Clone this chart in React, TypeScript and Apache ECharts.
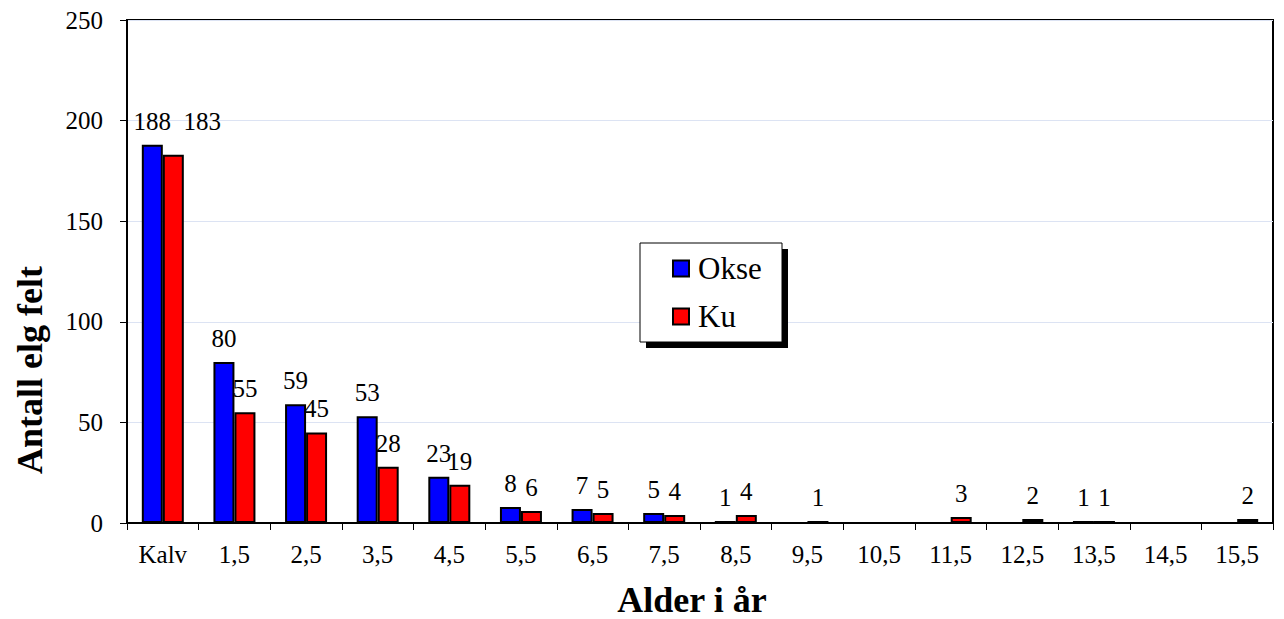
import React, { useEffect, useRef } from 'react'
import * as echarts from 'echarts'

const categories = ['Kalv', '1,5', '2,5', '3,5', '4,5', '5,5', '6,5', '7,5', '8,5', '9,5', '10,5', '11,5', '12,5', '13,5', '14,5', '15,5']
const okse = [188, 80, 59, 53, 23, 8, 7, 5, 1, 0, 0, 0, 0, 1, 0, 0]
const ku = [183, 55, 45, 28, 19, 6, 5, 4, 4, 1, 0, 3, 2, 1, 0, 2]
const yTicks = { min: 0, max: 250, interval: 50 }

const serif = 'Liberation Serif'

const App = () => {
    const chartRef = useRef<HTMLDivElement>(null)

    useEffect(() => {
        if (!chartRef.current) return
        const chart = echarts.init(chartRef.current, null, { renderer: 'svg' })

        const barLabel = {
            show: true,
            position: 'top',
            distance: 11,
            color: '#000',
            fontSize: 25,
            fontFamily: serif,
            formatter: (p: any) => (p.value === 0 ? '' : String(p.value)),
        }

        // first Ku label is nudged right/up in the original so it doesn't collide with 188
        const kuData = ku.map((v, i) => (i === 0 ? { value: v, label: { offset: [29, -10] } } : v))

        const option = {
            animation: false,
            backgroundColor: '#fff',
            textStyle: { fontFamily: serif },
            grid: {
                left: 127,
                right: 11,
                top: 20,
                bottom: 96,
                show: true,
                borderColor: '#000',
                borderWidth: 2,
                backgroundColor: 'transparent',
            },
            graphic: [
                // legend box with hard shadow
                { type: 'rect', shape: { x: 646, y: 249, width: 142, height: 99 }, style: { fill: '#000' }, z: 10 },
                { type: 'rect', shape: { x: 640, y: 243, width: 142, height: 99 }, style: { fill: '#fff', stroke: '#000', lineWidth: 1 }, z: 11 },
                {
                    type: 'text',
                    x: 30,
                    y: 370,
                    rotation: Math.PI / 2,
                    style: { text: 'Antall elg felt', font: `bold 36px ${serif}`, fill: '#000', align: 'center', verticalAlign: 'middle' },
                },
                {
                    type: 'text',
                    x: 692,
                    y: 600,
                    style: { text: 'Alder i år', font: `bold 36px ${serif}`, fill: '#000', align: 'center', verticalAlign: 'middle' },
                },
            ],
            legend: {
                orient: 'vertical',
                left: 667,
                top: 248,
                icon: 'rect',
                itemWidth: 16,
                itemHeight: 16,
                itemGap: 17,
                z: 20,
                textStyle: { fontSize: 31, fontFamily: serif, color: '#000', padding: [0, 0, 0, 4] },
                data: ['Okse', 'Ku'],
            },
            xAxis: {
                type: 'category',
                data: categories,
                axisLine: { lineStyle: { color: '#000', width: 2 } },
                axisTick: { show: true, length: 7, lineStyle: { color: '#000', width: 1 } },
                axisLabel: { color: '#000', fontSize: 25, fontFamily: serif, margin: 19, interval: 0 },
                splitLine: { show: false },
            },
            yAxis: {
                type: 'value',
                min: yTicks.min,
                max: yTicks.max,
                interval: yTicks.interval,
                axisLine: { show: true, lineStyle: { color: '#000', width: 2 } },
                axisTick: { show: true, length: 7, lineStyle: { color: '#000', width: 1 } },
                axisLabel: { color: '#000', fontSize: 25, fontFamily: serif, margin: 24 },
                splitLine: { show: true, lineStyle: { color: '#dce3f3', width: 1 } },
            },
            series: [
                {
                    name: 'Okse',
                    type: 'bar',
                    data: okse,
                    barWidth: 21,
                    barGap: '0%',
                    itemStyle: { color: '#0000ff', borderColor: '#000', borderWidth: 2 },
                    label: barLabel,
                },
                {
                    name: 'Ku',
                    type: 'bar',
                    data: kuData,
                    barWidth: 21,
                    barGap: '0%',
                    itemStyle: { color: '#ff0000', borderColor: '#000', borderWidth: 2 },
                    label: barLabel,
                },
            ],
        }

        chart.setOption(option)

        return () => {
            chart.dispose()
        }
    }, [])

    return <div ref={chartRef} style={{ position: 'fixed', left: 0, top: 0, width: 1284, height: 619 }} />
}

export default App
